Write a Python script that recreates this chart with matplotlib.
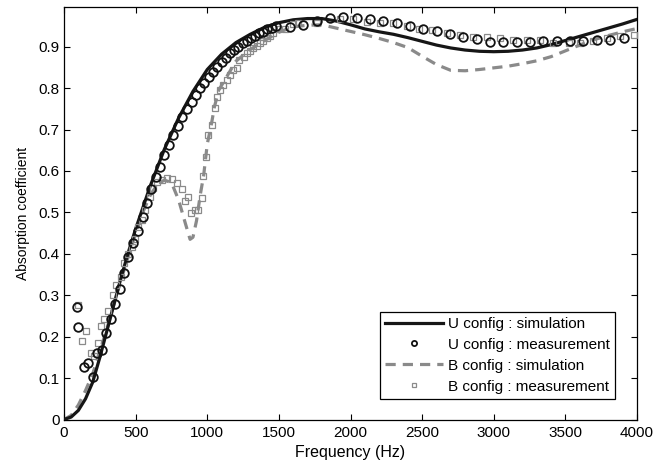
import numpy as np
import matplotlib
matplotlib.use("Agg")
import matplotlib.pyplot as plt

plt.rcParams['font.family'] = ['Liberation Sans', 'DejaVu Sans']
plt.rcParams['font.size'] = 11

# simulated absorption, U configuration
f_u_sim = [0, 50, 100, 150, 200, 250, 300, 350, 400, 450, 500, 600, 700, 800, 900,
           1000, 1100, 1200, 1300, 1400, 1500, 1600, 1700, 1800, 1900, 2000, 2100,
           2200, 2300, 2400, 2500, 2600, 2700, 2800, 2900, 3000, 3100, 3200, 3300,
           3400, 3500, 3600, 3700, 3800, 3900, 4000]
a_u_sim = [0.0, 0.006, 0.022, 0.05, 0.09, 0.15, 0.215, 0.28, 0.345, 0.405, 0.46,
           0.562, 0.652, 0.728, 0.792, 0.845, 0.882, 0.91, 0.93, 0.947, 0.958,
           0.965, 0.968, 0.968, 0.962, 0.953, 0.943, 0.936, 0.93, 0.922, 0.913,
           0.904, 0.897, 0.892, 0.889, 0.888, 0.889, 0.892, 0.897, 0.905, 0.915,
           0.925, 0.935, 0.945, 0.955, 0.966]

# measured absorption, U configuration
f_u_meas = [94, 100, 140, 168, 205, 233, 268, 296, 328, 356, 389, 419, 449, 484,
            517, 549, 577, 608, 640, 670, 700, 731, 763, 796, 826, 857, 892, 922,
            950, 980, 1013, 1043, 1071, 1101, 1131, 1159, 1189, 1217, 1248, 1276,
            1304, 1334, 1362, 1392, 1420, 1450, 1480, 1578, 1671, 1764, 1858, 1950,
            2044, 2137, 2230, 2323, 2416, 2509, 2602, 2696, 2788, 2882, 2975, 3068,
            3161, 3254, 3347, 3441, 3534, 3626, 3720, 3813, 3906]
a_u_meas = [0.271, 0.224, 0.126, 0.136, 0.103, 0.161, 0.169, 0.208, 0.242, 0.279,
            0.316, 0.353, 0.392, 0.425, 0.456, 0.488, 0.523, 0.557, 0.586, 0.609,
            0.639, 0.663, 0.688, 0.709, 0.73, 0.749, 0.767, 0.783, 0.8, 0.813,
            0.828, 0.84, 0.852, 0.864, 0.873, 0.884, 0.892, 0.9, 0.908, 0.915,
            0.92, 0.926, 0.932, 0.936, 0.942, 0.946, 0.95, 0.948, 0.952, 0.963,
            0.969, 0.971, 0.97, 0.967, 0.962, 0.957, 0.95, 0.944, 0.939, 0.931,
            0.923, 0.918, 0.911, 0.911, 0.911, 0.911, 0.913, 0.914, 0.914, 0.914,
            0.917, 0.916, 0.92]

# simulated absorption, B configuration
f_b_sim = [0, 50, 100, 150, 200, 300, 400, 500, 550, 600, 650, 700, 750, 800, 850,
           880, 900, 925, 950, 975, 1000, 1030, 1050, 1080, 1140, 1200, 1300, 1400,
           1500, 1600, 1700, 1800, 1900, 2000, 2100, 2200, 2300, 2400, 2500, 2600,
           2700, 2800, 2900, 3000, 3100, 3200, 3300, 3400, 3500, 3600, 3700, 3800,
           3900, 4000]
a_b_sim = [0.0, 0.01, 0.035, 0.07, 0.11, 0.22, 0.34, 0.45, 0.5, 0.54, 0.567, 0.578,
           0.572, 0.53, 0.47, 0.435, 0.44, 0.48, 0.54, 0.59, 0.665, 0.715, 0.755,
           0.795, 0.83, 0.865, 0.893, 0.915, 0.935, 0.948, 0.952, 0.953, 0.945,
           0.937, 0.929, 0.92, 0.91, 0.898, 0.877, 0.857, 0.843, 0.842, 0.845,
           0.849, 0.853, 0.859, 0.866, 0.876, 0.89, 0.904, 0.917, 0.927, 0.936,
           0.944]

# measured absorption, B configuration
f_b_meas = [100, 125, 155, 185, 210, 235, 255, 280, 310, 340, 365, 395, 420, 445,
            472, 496, 519, 543, 566, 601, 624, 647, 682, 717, 752, 787, 822, 845,
            868, 885, 915, 938, 961, 973, 989, 1008, 1031, 1054, 1066, 1089, 1113,
            1136, 1159, 1183, 1206, 1225, 1253, 1276, 1299, 1322, 1346, 1369, 1392,
            1416, 1439, 1462, 1497, 1543, 1601, 1636, 1764, 1927, 2020, 2114, 2207,
            2300, 2393, 2475, 2568, 2672, 2765, 2858, 2951, 3044, 3137, 3231, 3324,
            3417, 3522, 3603, 3696, 3790, 3883, 3980]
a_b_meas = [0.277, 0.19, 0.214, 0.16, 0.153, 0.185, 0.225, 0.243, 0.262, 0.3,
            0.325, 0.345, 0.378, 0.4, 0.417, 0.437, 0.465, 0.482, 0.506, 0.538,
            0.558, 0.574, 0.578, 0.582, 0.58, 0.572, 0.556, 0.527, 0.536, 0.498,
            0.507, 0.506, 0.534, 0.588, 0.634, 0.687, 0.711, 0.751, 0.779, 0.795,
            0.808, 0.82, 0.832, 0.844, 0.848, 0.868, 0.876, 0.884, 0.89, 0.896,
            0.902, 0.908, 0.915, 0.92, 0.926, 0.932, 0.942, 0.944, 0.955, 0.957,
            0.958, 0.968, 0.968, 0.96, 0.958, 0.957, 0.95, 0.944, 0.94, 0.934,
            0.928, 0.924, 0.924, 0.92, 0.917, 0.917, 0.917, 0.91, 0.908, 0.91,
            0.915, 0.92, 0.926, 0.928]

fig = plt.figure(figsize=(6.67, 4.61), dpi=100)
ax = fig.add_axes([0.096, 0.09, 0.859, 0.894])

grey = '#8a8a8a'
ax.plot(f_u_sim, a_u_sim, '-', color='#161616', lw=2.3,
        label='U config : simulation', zorder=3)
ax.plot(f_u_meas, a_u_meas, 'o', ls='none', mfc='none', mec='#111111',
        ms=6.2, mew=1.3, label='U config : measurement', zorder=4,
        clip_on=False)
ax.plot(f_b_sim, a_b_sim, '--', color=grey, lw=2.3, dashes=(3.2, 2.2),
        label='B config : simulation', zorder=2)
ax.plot(f_b_meas, a_b_meas, 's', ls='none', mfc='none', mec=grey,
        ms=4.3, mew=0.9, label='B config : measurement', zorder=3,
        clip_on=False)

ax.set_xlim(0, 4000)
ax.set_ylim(0, 0.995)
ax.set_xticks(np.arange(0, 4001, 500))
ax.set_yticks(np.arange(0, 0.91, 0.1))
ax.set_yticklabels(['0'] + ['%.1f' % v for v in np.arange(0.1, 0.91, 0.1)])
ax.tick_params(direction='in', length=4, width=0.8, top=True, right=True,
               labelsize=11)
ax.tick_params(axis='x', pad=5)
ax.tick_params(axis='y', pad=3)
for s in ax.spines.values():
    s.set_linewidth(0.9)

ax.set_xlabel('Frequency (Hz)', fontsize=11.5, labelpad=3)
ax.set_ylabel('Absorption coefficient', fontsize=10, labelpad=6)

leg = ax.legend(loc='lower right', bbox_to_anchor=(0.962, 0.05),
                borderaxespad=0, fancybox=False, framealpha=1,
                edgecolor='black', fontsize=11, markerscale=0.6,
                handlelength=3.8, handletextpad=0.3, labelspacing=0.45,
                borderpad=0.35)
leg.get_frame().set_linewidth(0.9)

fig.savefig('out.png', dpi=100)
